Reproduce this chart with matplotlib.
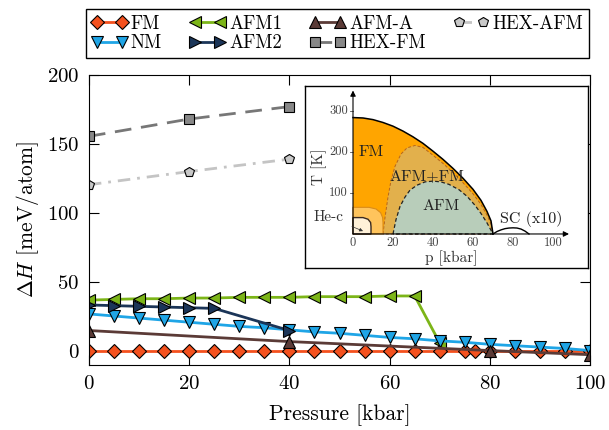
import numpy as np
import matplotlib
matplotlib.use("Agg")
import matplotlib.pyplot as plt
from matplotlib.patches import Polygon

plt.rcParams.update({
    "font.family": "serif",
    "font.serif": ["cmr10"],
    "mathtext.fontset": "cm",
    "axes.formatter.use_mathtext": True,
    "axes.unicode_minus": False,
})

# ---- main data: enthalpy difference vs pressure ----
p_fm = [0, 5, 10, 15, 20, 25, 30, 35, 40, 45, 50, 55, 60, 65, 70, 75, 77, 80, 85, 90, 95, 100]
dh_fm = [0] * len(p_fm)
p_nm = [0, 5, 10, 15, 20, 25, 30, 35, 40, 45, 50, 55, 60, 65, 70, 75, 80, 85, 90, 95, 100]
dh_nm = [27, 25.5, 24, 22.5, 21, 19.5, 18, 17, 15.5, 14, 13, 11.5, 10, 9, 7.5, 6.5, 5, 4, 3, 2, 0.5]
p_afm1 = [0, 5, 10, 15, 20, 25, 30, 35, 40, 45, 50, 55, 60, 65, 70]
dh_afm1 = [37, 37.5, 38, 38, 38.5, 38.5, 39, 39, 39, 39.5, 39.5, 39.5, 40, 40, 6]
p_afm2 = [0, 5, 10, 15, 20, 25, 40]
dh_afm2 = [33.5, 33, 32.5, 32, 31.5, 31, 15]
p_afma = [0, 40, 80, 100]
dh_afma = [15, 7, 0.5, -2.5]
p_hex = [0, 20, 40]
dh_hexfm = [155.5, 168, 177]
dh_hexafm = [120.5, 130, 139]

# ---- inset phase diagram boundaries (p [kbar], T [K]) ----
fm_p = [0, 5, 10, 15, 20, 25, 30, 35, 40, 45, 50, 55, 60, 64, 67, 69, 70]
fm_T = [284, 283, 279, 272, 263, 251, 237, 221, 202, 182, 160, 136, 109, 82, 55, 32, 0]
mix_p = [15, 16, 17.5, 19, 21, 24, 27, 31, 35, 40, 45, 50, 55, 60, 64, 67, 69, 70]
mix_T = [0, 40, 90, 130, 165, 195, 210, 216, 211, 192, 172, 150, 125, 98, 72, 46, 24, 0]
afm_p = [20, 21.5, 23.5, 26, 28.5, 32, 36, 40, 44, 48, 53, 57, 61, 64, 67, 70]
afm_T = [0, 35, 67, 90, 107, 119, 127, 129, 127, 121, 108, 92, 70, 50, 27, 0]
he_out_p = [0, 0, 8, 11.5, 13.8, 14.8, 15, 15]
he_out_T = [0, 65, 65, 61, 52, 40, 28, 0]
he_in_p = [0, 0, 5, 7.5, 8.8, 9, 9]
he_in_T = [0, 40, 40, 36, 28, 18, 0]
sc_p = [70, 72, 74, 76, 78, 80, 82, 84, 86, 88]
sc_T = [0, 6, 10, 13, 14.5, 15, 14.5, 12, 7, 0]

c_fm, c_nm, c_afm1 = "#F4511E", "#1FA5E6", "#7CB518"
c_afm2, c_afma = "#1B3558", "#5B3B37"

fig = plt.figure(figsize=(6.09, 4.30), dpi=100)
ax = fig.add_axes([0.146, 0.151, 0.823, 0.675])

mk = dict(markeredgecolor="k", markeredgewidth=0.8, lw=2.0)
l_fm, = ax.plot(p_fm, dh_fm, marker="D", ms=7.5, color=c_fm, label="FM", **mk)
l_afm1, = ax.plot(p_afm1, dh_afm1, marker="<", ms=8.5, color=c_afm1, label="AFM1", **mk)
l_nm, = ax.plot(p_nm, dh_nm, marker="v", ms=8.5, color=c_nm, label="NM", **mk)
l_afm2, = ax.plot(p_afm2, dh_afm2, marker=">", ms=8.5, color=c_afm2, label="AFM2", **mk)
l_afma, = ax.plot(p_afma, dh_afma, marker="^", ms=8.5, color=c_afma, label="AFM-A", **mk)
l_hfm, = ax.plot(p_hex, dh_hexfm, marker="s", ms=7, color="#777777", ls=(0, (6, 3.5)),
                 markerfacecolor="#888888", label="HEX-FM", **mk)
l_hafm, = ax.plot(p_hex, dh_hexafm, marker="p", ms=7.5, color="#c4c4c4", ls=(0, (4.5, 2.5, 1, 2.5)),
                  markerfacecolor="#c8c8c8", label="HEX-AFM", **mk)

ax.set_xlim(0, 100)
ax.set_ylim(-10, 200)
ax.set_xticks([0, 20, 40, 60, 80, 100])
ax.set_yticks([0, 50, 100, 150, 200])
ax.tick_params(direction="in", length=7, width=0.8, top=True, right=True, labelsize=15, pad=7)
ax.set_xlabel("Pressure [kbar]", fontsize=15.5, labelpad=8)
ax.set_ylabel(r"$\Delta H$ [meV/atom]", fontsize=15.5, labelpad=4)

leg = ax.legend([l_fm, l_nm, l_afm1, l_afm2, l_afma, l_hfm, l_hafm],
                ["FM", "NM", "AFM1", "AFM2", "AFM-A", "HEX-FM", "HEX-AFM"],
                ncol=4, loc="lower left", bbox_to_anchor=(-0.006, 1.058, 1.004, 0.166),
                mode="expand", fontsize=13.5, numpoints=2, handlelength=1.9,
                handletextpad=0.2, fancybox=False, framealpha=1, edgecolor="k",
                borderaxespad=0, labelspacing=0.1, borderpad=0.3, columnspacing=0.8)
leg.get_frame().set_linewidth(1.0)

# ---- inset ----
ins = fig.add_axes([305 / 609, 162 / 430, 283 / 609, 182 / 430])
ins.set_xlim(-24, 117.5)
ins.set_ylim(-83, 361)
ins.set_xticks([]); ins.set_yticks([])
for s in ins.spines.values():
    s.set_linewidth(1.0)

fm_poly = list(zip(fm_p, fm_T)) + [(0, 0)]
ins.add_patch(Polygon(fm_poly, closed=True, facecolor="#FFA500", edgecolor="none"))
ins.plot(fm_p, fm_T, color="k", lw=1.1)
ins.add_patch(Polygon(list(zip(mix_p, mix_T)), closed=True, facecolor="#E2B04C",
                      edgecolor="#B5651D", lw=0.7, ls=(0, (3, 2))))
ins.add_patch(Polygon(list(zip(afm_p, afm_T)), closed=True, facecolor="#B8CDBA",
                      edgecolor="#222222", lw=0.9, ls=(0, (3, 2))))
ins.add_patch(Polygon(list(zip(he_out_p, he_out_T)), closed=True, facecolor="#FFC45C",
                      edgecolor="#D98C1A", lw=0.8))
ins.add_patch(Polygon(list(zip(he_in_p, he_in_T)), closed=True, facecolor="#FFF1D8",
                      edgecolor="#3a2a20", lw=1.0))
ins.plot(sc_p, sc_T, color="k", lw=1.0)

ins.annotate("", xy=(0, 350), xytext=(0, 0),
             arrowprops=dict(arrowstyle="-|>", color="k", lw=0.8, mutation_scale=8, shrinkA=0, shrinkB=0))
ins.annotate("", xy=(108, 0), xytext=(0, 0),
             arrowprops=dict(arrowstyle="-|>", color="k", lw=0.8, mutation_scale=8, shrinkA=0, shrinkB=0))
for t in [100, 200, 300]:
    ins.plot([-1.5, 0], [t, t], color="#555", lw=0.6)
    ins.text(-2.5, t, str(t), ha="right", va="center", fontsize=9, color="#444")
for p in [0, 20, 40, 60, 80, 100]:
    ins.text(p, -7, str(p), ha="center", va="top", fontsize=9, color="#444")
ins.text(-17, 165, "T [K]", rotation=90, ha="center", va="center", fontsize=11, color="#333")
ins.text(49, -60, "p [kbar]", ha="center", va="center", fontsize=11, color="#333")
ins.text(9, 200, "FM", ha="center", va="center", fontsize=11.5, color="#222")
ins.text(37, 140, "AFM+FM", ha="center", va="center", fontsize=11.5, color="#222")
ins.text(44, 68, "AFM", ha="center", va="center", fontsize=11.5, color="#222")
ins.text(89, 36, "SC (x10)", ha="center", va="center", fontsize=11.5, color="#222")
ins.annotate("He-c", xy=(5, 7), xytext=(-12, 42), ha="center", va="center", fontsize=11, color="#333",
             arrowprops=dict(arrowstyle="-|>", color="#333", lw=0.5, mutation_scale=5,
                             shrinkA=4, shrinkB=0))

fig.savefig("out.png", dpi=100)
